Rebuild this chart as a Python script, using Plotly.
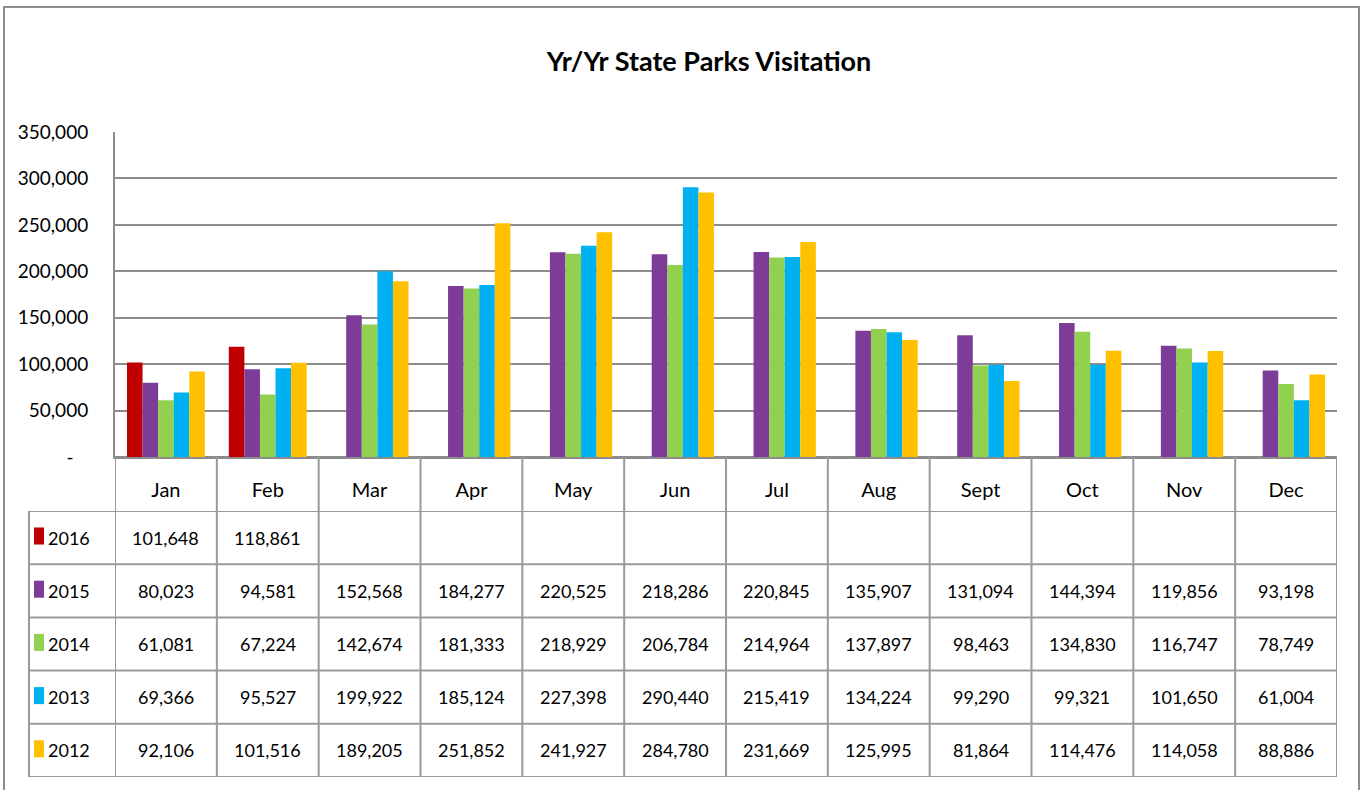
import plotly.graph_objects as go

months = ["Jan", "Feb", "Mar", "Apr", "May", "Jun", "Jul", "Aug", "Sept", "Oct", "Nov", "Dec"]
years = ["2016", "2015", "2014", "2013", "2012"]
v2016 = [101648, 118861, None, None, None, None, None, None, None, None, None, None]
v2015 = [80023, 94581, 152568, 184277, 220525, 218286, 220845, 135907, 131094, 144394, 119856, 93198]
v2014 = [61081, 67224, 142674, 181333, 218929, 206784, 214964, 137897, 98463, 134830, 116747, 78749]
v2013 = [69366, 95527, 199922, 185124, 227398, 290440, 215419, 134224, 99290, 99321, 101650, 61004]
v2012 = [92106, 101516, 189205, 251852, 241927, 284780, 231669, 125995, 81864, 114476, 114058, 88886]
series = [v2016, v2015, v2014, v2013, v2012]
colors = ["#C00000", "#7D3C98", "#92D050", "#00B0F0", "#FFC000"]
ytickvals = [0, 50000, 100000, 150000, 200000, 250000, 300000, 350000]
yticktext = ["-\u00a0\u00a0\u00a0", "50,000", "100,000", "150,000", "200,000", "250,000", "300,000", "350,000"]

W, H = 1360, 790
FONT = "Lato, Liberation Sans, sans-serif"
GRID = "#8c8c8c"
TGRID = "#9a9a9a"


def px(x):
    return x / W


def py(y):
    return 1 - y / H


fig = go.Figure()
for year, vals, col in zip(years, series, colors):
    fig.add_trace(go.Bar(x=months, y=vals, name=year, marker_color=col,
                         marker_line_width=0, hoverinfo="x+y+name"))

# invisible trace to create the table axis
fig.add_trace(go.Scatter(x=[months[0]], y=[0], yaxis="y2", mode="markers",
                         marker=dict(opacity=0, size=1), showlegend=False, hoverinfo="skip"))

fig.update_layout(
    width=W, height=H,
    margin=dict(l=0, r=0, t=0, b=0, pad=0, autoexpand=False),
    barmode="group", bargap=0.235, bargroupgap=0,
    showlegend=False,
    plot_bgcolor="white", paper_bgcolor="white",
    font=dict(family=FONT, color="black", size=19),
    title=dict(text="<b>Yr/Yr State Parks Visitation</b>", x=px(709), xanchor="center",
               y=py(62), yanchor="middle", font=dict(size=27, family=FONT, color="black")),
    xaxis=dict(domain=[px(115), px(1337)], range=[-0.5, len(months) - 0.5],
               showgrid=False, showline=True, linecolor=GRID,
               linewidth=2, ticks="", tickfont=dict(size=20), ticklabelstandoff=14,
               anchor="y", automargin=False),
    yaxis=dict(domain=[py(457), py(132)], range=[0, 350000], tickvals=ytickvals,
               ticktext=yticktext, showgrid=True, gridcolor=GRID, gridwidth=2,
               zeroline=True, zerolinecolor=GRID, zerolinewidth=2,
               showline=True, linecolor=GRID, linewidth=2, ticks="",
               tickfont=dict(size=19), ticklabelstandoff=21, automargin=False),
    yaxis2=dict(domain=[py(777), py(511)], range=[-0.5, 4.5], visible=False,
                anchor="x", automargin=False),
)

shapes = []
# outer chart border
shapes.append(dict(type="rect", xref="paper", yref="paper", x0=px(4), x1=px(1359),
                   y0=py(800), y1=py(7), line=dict(color=GRID, width=2)))
# table horizontal lines
for k in range(len(years) + 1):
    yv = k - 0.5
    shapes.append(dict(type="line", xref="paper", yref="y2", x0=px(29), x1=px(1337),
                       y0=yv, y1=yv, line=dict(color=TGRID, width=2)))
# table vertical lines at month boundaries
for i in range(len(months) + 1):
    shapes.append(dict(type="line", xref="x", yref="paper", x0=i - 0.5, x1=i - 0.5,
                       y0=py(777), y1=py(457), line=dict(color=TGRID, width=2)))
# left edge of the label column
shapes.append(dict(type="line", xref="paper", yref="y2", x0=px(29), x1=px(29),
                   y0=-0.5, y1=len(years) - 0.5, line=dict(color=TGRID, width=2)))

annotations = []
for r, (year, vals, col) in enumerate(zip(years, series, colors)):
    row = len(years) - 1 - r
    # legend key
    shapes.append(dict(type="rect", xref="paper", yref="y2", x0=px(34), x1=px(44),
                       y0=row - 0.13, y1=row + 0.19, fillcolor=col, line=dict(width=0)))
    annotations.append(dict(text=year, xref="paper", yref="y2", x=px(46), y=row,
                            xanchor="left", yanchor="middle", showarrow=False,
                            font=dict(size=18, family=FONT, color="black")))
    for m, v in zip(months, vals):
        if v is None:
            continue
        annotations.append(dict(text=f"{v:,}", xref="x", yref="y2", x=m, y=row,
                                xanchor="center", yanchor="middle", showarrow=False,
                                font=dict(size=18, family=FONT, color="black")))

fig.update_layout(shapes=shapes, annotations=annotations)
fig.write_html("out.html", config={"displayModeBar": False},
               post_script="document.body.style.margin='0';")
